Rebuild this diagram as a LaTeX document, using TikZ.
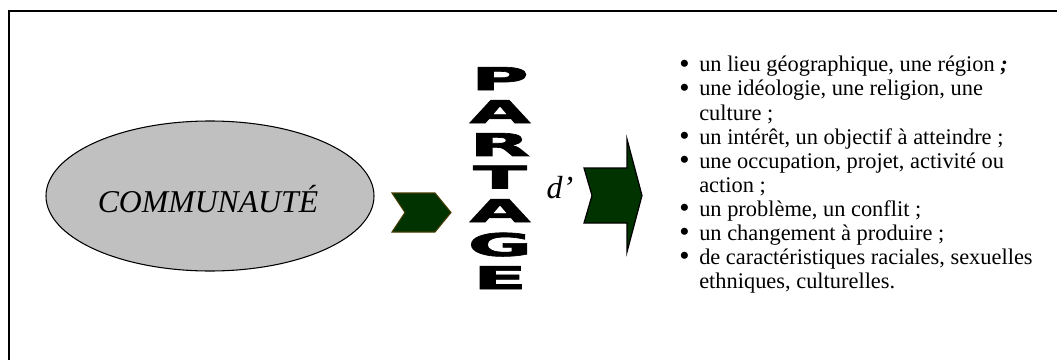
\documentclass[tikz,border=0pt]{standalone}
\usepackage{fontspec}
\usepackage{graphicx}
\setmainfont{Liberation Serif}
\newfontfamily\wafont[FakeBold=2]{DejaVu Sans Bold}
\usetikzlibrary{shapes.geometric}
\definecolor{dkgreen}{RGB}{0,51,0}
\definecolor{olivebrd}{RGB}{70,60,0}
\definecolor{ellgray}{RGB}{192,192,192}
\newcommand{\bul}{\makebox[15pt][l]{\raisebox{-0.8pt}{\fontsize{22}{22}\selectfont•}}}
\tikzset{
  framestyle/.style={line width=1.5pt, draw=black},
  commell/.style={ellipse, draw=black, line width=0.8pt, fill=ellgray, minimum width=328*0.75pt, minimum height=150*0.75pt, inner sep=0pt},
  waletter/.style={anchor=base, inner sep=0pt, font=\wafont\fontsize{23.5}{23.5}\selectfont},
  bullet/.style={anchor=base west, inner sep=0pt, align=left, font=\fontsize{16.8}{18}\selectfont},
  smallchev/.style={fill=dkgreen, draw=olivebrd, line width=0.8pt, line join=miter},
  bigarrow/.style={fill=dkgreen, draw=black, line width=0.9pt, line join=miter},
}
\begin{document}
\begin{tikzpicture}[x=0.75pt, y=-0.75pt]
\useasboundingbox (0,0) rectangle (1057,360);
% frame (cropped on right and bottom)
\draw[framestyle] (1070,11.5) -- (8.5,11.5) -- (8.5,370);
% ellipse
\node[commell] (comm) at (210,196) {};
\node[anchor=base, inner sep=0pt, font=\fontsize{23.8}{23.8}\selectfont\itshape] (commtxt) at (208,212) {COMMUNAUTÉ};
% small chevron
\draw[smallchev] (392,193) -- (435,193) -- (451,212.5) -- (435,232) -- (392,232) -- (405,212.5) -- cycle;
% PARTAGE letters
\foreach \L/\y [count=\i] in {P/90,A/123,R/156,T/188.5,A/222,G/256,E/289}{
  \node[waletter] (L\i) at (500,\y) {\scalebox{2.5}[1]{\L}};
}
% d'
\node[anchor=base, inner sep=0pt, font=\fontsize{24}{24}\selectfont\itshape] (dap) at (560,198) {d’};
% big arrow
\draw[bigarrow] (584,168) -- (627,168) -- (627,139) -- (642,195.5) -- (627,252) -- (627,223) -- (584,223) -- (592,195.5) -- cycle;
% bullet list
\node[bullet] (b1) at (679,72) {\bul un lieu géographique, une région \textbf{\textit{;}}};
\node[bullet] (b2) at (679,96) {\bul une idéologie, une religion, une};
\node[bullet] (b2b) at (699,120) {culture ;};
\node[bullet] (b3) at (679,144) {\bul un intérêt, un objectif à atteindre ;};
\node[bullet] (b4) at (679,168) {\bul une occupation, projet, activité ou};
\node[bullet] (b4b) at (699,192) {action ;};
\node[bullet] (b5) at (679,216) {\bul un problème, un conflit ;};
\node[bullet] (b6) at (679,240) {\bul un changement à produire ;};
\node[bullet] (b7) at (679,264) {\bul de caractéristiques raciales, sexuelles};
\node[bullet] (b7b) at (699,288) {ethniques, culturelles.};
\end{tikzpicture}
\end{document}
